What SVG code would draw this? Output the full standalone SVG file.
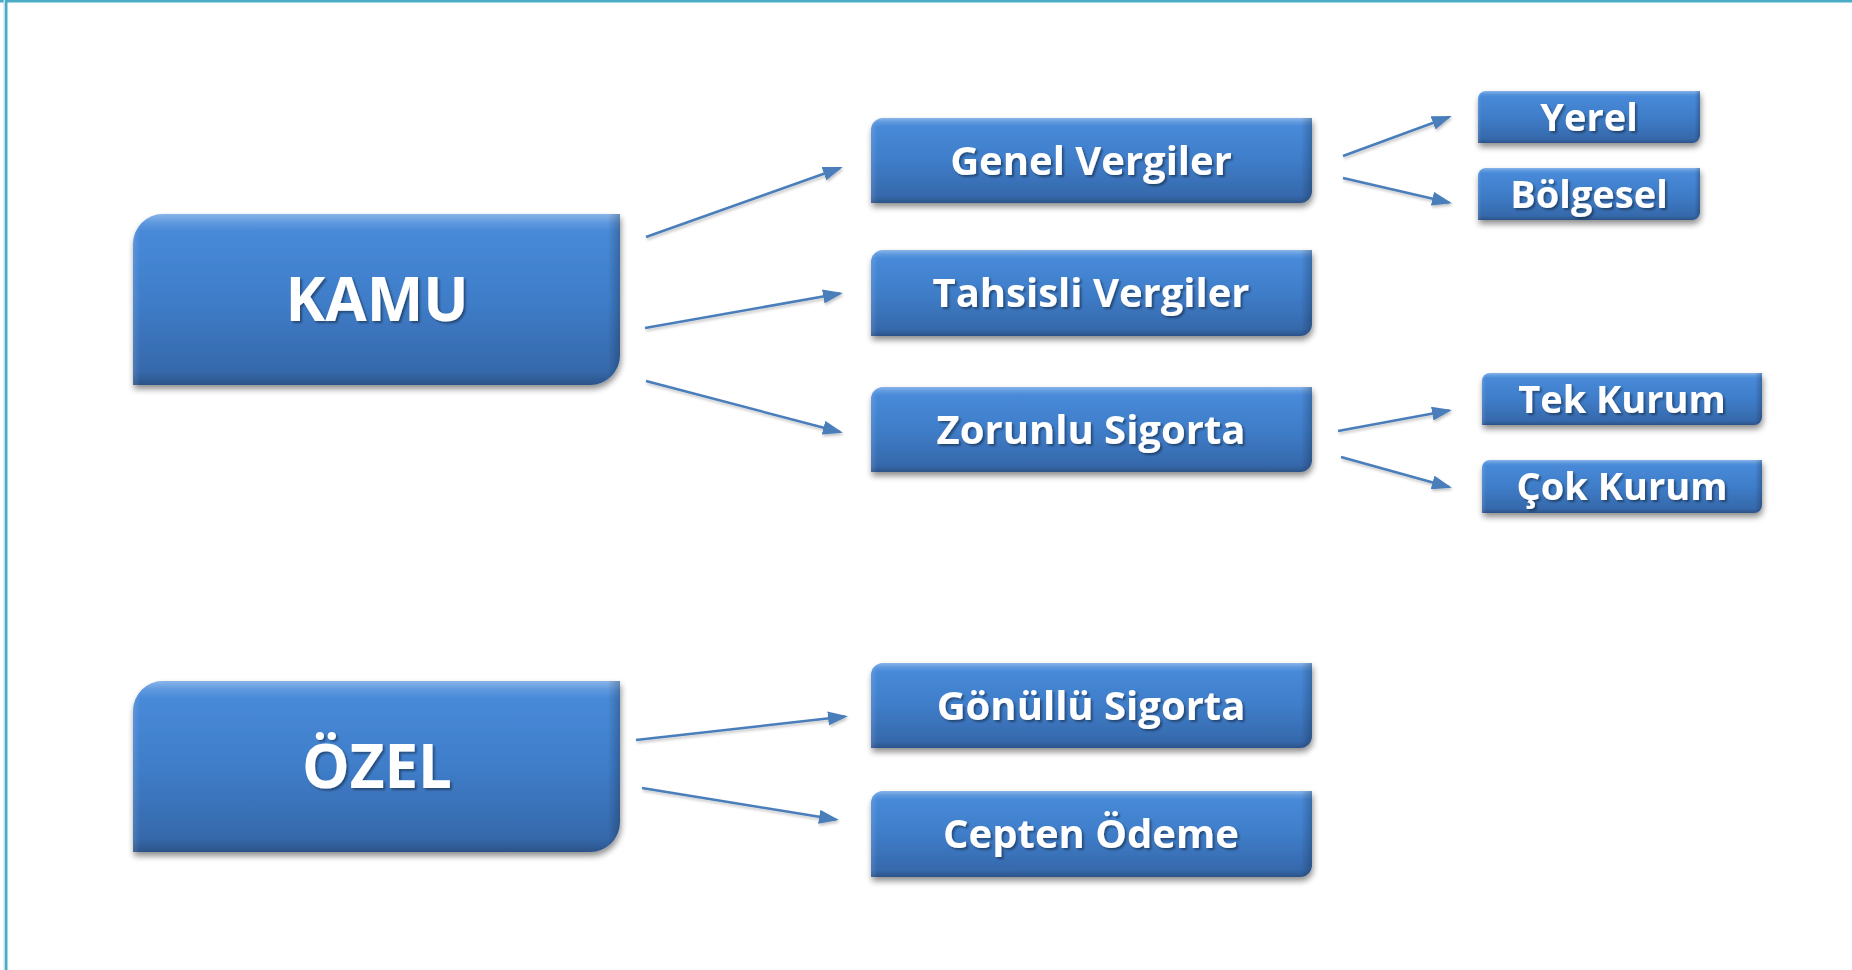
<svg xmlns="http://www.w3.org/2000/svg" xmlns:xlink="http://www.w3.org/1999/xlink" width="1852" height="970" viewBox="0 0 1852 970">
<defs>
<linearGradient id="gBody" x1="0" y1="0" x2="0" y2="1">
<stop offset="0" stop-color="#4A8DDC"/>
<stop offset="0.5" stop-color="#3F7DC9"/>
<stop offset="1" stop-color="#3465A6"/>
</linearGradient>
<linearGradient id="gTop" x1="0" y1="0" x2="0" y2="1">
<stop offset="0" stop-color="#FFFFFF" stop-opacity="0.35"/>
<stop offset="0.05" stop-color="#FFFFFF" stop-opacity="0.12"/>
<stop offset="0.1" stop-color="#FFFFFF" stop-opacity="0"/>
<stop offset="0.92" stop-color="#000000" stop-opacity="0"/>
<stop offset="1" stop-color="#000000" stop-opacity="0.18"/>
</linearGradient>
<linearGradient id="gSide" x1="0" y1="0" x2="1" y2="0">
<stop offset="0" stop-color="#FFFFFF" stop-opacity="0.12"/>
<stop offset="0.015" stop-color="#FFFFFF" stop-opacity="0"/>
<stop offset="0.975" stop-color="#000000" stop-opacity="0"/>
<stop offset="1" stop-color="#000000" stop-opacity="0.22"/>
</linearGradient>
<filter id="shadow" x="-10%" y="-20%" width="120%" height="150%">
<feGaussianBlur in="SourceAlpha" stdDeviation="3"/>
<feOffset dx="1" dy="4" result="b"/>
<feComponentTransfer><feFuncA type="linear" slope="0.45"/></feComponentTransfer>
<feMerge><feMergeNode/><feMergeNode in="SourceGraphic"/></feMerge>
</filter>
<filter id="tshadow" x="-10%" y="-20%" width="120%" height="150%">
<feGaussianBlur in="SourceAlpha" stdDeviation="1"/>
<feOffset dx="1.5" dy="1.5"/>
<feComponentTransfer><feFuncA type="linear" slope="0.4"/></feComponentTransfer>
<feMerge><feMergeNode/><feMergeNode in="SourceGraphic"/></feMerge>
</filter>
<filter id="lshadow" x="-10%" y="-50%" width="120%" height="200%">
<feGaussianBlur in="SourceAlpha" stdDeviation="1.5"/>
<feOffset dx="1" dy="2"/>
<feComponentTransfer><feFuncA type="linear" slope="0.25"/></feComponentTransfer>
<feMerge><feMergeNode/><feMergeNode in="SourceGraphic"/></feMerge>
</filter>
<marker id="arr" viewBox="0 0 20 14" refX="17" refY="7" markerWidth="20" markerHeight="14" markerUnits="userSpaceOnUse" orient="auto">
<path d="M0,0 L20,7 L0,14 Z" fill="#4A7EBB"/>
</marker>
<path id="p-kamu" d="M163,214 H620 V355 A30,30 0 0 1 590,385 H133 V244 A30,30 0 0 1 163,214 Z"/>
<path id="p-ozel" d="M163,681 H620 V822 A30,30 0 0 1 590,852 H133 V711 A30,30 0 0 1 163,681 Z"/>
<path id="p-genel" d="M883,118 H1312 V191 A12,12 0 0 1 1300,203 H871 V130 A12,12 0 0 1 883,118 Z"/>
<path id="p-tahsisli" d="M883,250 H1312 V324 A12,12 0 0 1 1300,336 H871 V262 A12,12 0 0 1 883,250 Z"/>
<path id="p-zorunlu" d="M883,387 H1312 V460 A12,12 0 0 1 1300,472 H871 V399 A12,12 0 0 1 883,387 Z"/>
<path id="p-gonullu" d="M883,663 H1312 V736 A12,12 0 0 1 1300,748 H871 V675 A12,12 0 0 1 883,663 Z"/>
<path id="p-cepten" d="M883,791 H1312 V865 A12,12 0 0 1 1300,877 H871 V803 A12,12 0 0 1 883,791 Z"/>
<path id="p-yerel" d="M1486,91 H1700 V135 A8,8 0 0 1 1692,143 H1478 V99 A8,8 0 0 1 1486,91 Z"/>
<path id="p-bolgesel" d="M1486,168 H1700 V212 A8,8 0 0 1 1692,220 H1478 V176 A8,8 0 0 1 1486,168 Z"/>
<path id="p-tek" d="M1490,373 H1762 V417 A8,8 0 0 1 1754,425 H1482 V381 A8,8 0 0 1 1490,373 Z"/>
<path id="p-cok" d="M1490,460 H1762 V505 A8,8 0 0 1 1754,513 H1482 V468 A8,8 0 0 1 1490,460 Z"/>
</defs>
<style>
.body { fill: url(#gBody); filter: url(#shadow); }
.top { fill: url(#gTop); }
.side { fill: url(#gSide); }
.lbl { fill: #FFFFFF; font-family: "Open Sans", "Liberation Sans", sans-serif; font-weight: bold; text-anchor: middle; filter: url(#tshadow); }
.big { font-size: 60px; }
.mid { font-size: 40px; }
.sml { font-size: 38px; }
.conn { stroke: #4A7EBB; stroke-width: 2.5; fill: none; marker-end: url(#arr); }
</style>
<rect x="0" y="0" width="1852" height="970" fill="#FFFFFF"/>
<g id="frame">
<rect x="0" y="0" width="1852" height="2.5" fill="#4BACC6"/>
<rect x="3.5" y="0" width="1.5" height="970" fill="#BFE0EA"/>
<rect x="5" y="0" width="2.5" height="970" fill="#4BACC6"/>
</g>
<g id="connectors" filter="url(#lshadow)">
<line class="conn" x1="646" y1="237" x2="840" y2="168"/>
<line class="conn" x1="645" y1="328" x2="840" y2="293.5"/>
<line class="conn" x1="646" y1="381" x2="840" y2="432"/>
<line class="conn" x1="1343" y1="156" x2="1449" y2="117"/>
<line class="conn" x1="1343" y1="178" x2="1449" y2="202.5"/>
<line class="conn" x1="1338" y1="431" x2="1449" y2="410.5"/>
<line class="conn" x1="1341" y1="457" x2="1449" y2="487"/>
<line class="conn" x1="636" y1="740" x2="845" y2="716.5"/>
<line class="conn" x1="642" y1="788" x2="836" y2="819.5"/>
</g>
<g id="n-kamu">
<use href="#p-kamu" class="body"/><use href="#p-kamu" class="top"/><use href="#p-kamu" class="side"/>
<text class="lbl big" x="377" y="321">KAMU</text>
</g>
<g id="n-ozel">
<use href="#p-ozel" class="body"/><use href="#p-ozel" class="top"/><use href="#p-ozel" class="side"/>
<text class="lbl big" x="377" y="788">ÖZEL</text>
</g>
<g id="n-genel">
<use href="#p-genel" class="body"/><use href="#p-genel" class="top"/><use href="#p-genel" class="side"/>
<text class="lbl mid" x="1091" y="175">Genel Vergiler</text>
</g>
<g id="n-tahsisli">
<use href="#p-tahsisli" class="body"/><use href="#p-tahsisli" class="top"/><use href="#p-tahsisli" class="side"/>
<text class="lbl mid" x="1091" y="307">Tahsisli Vergiler</text>
</g>
<g id="n-zorunlu">
<use href="#p-zorunlu" class="body"/><use href="#p-zorunlu" class="top"/><use href="#p-zorunlu" class="side"/>
<text class="lbl mid" x="1091" y="444">Zorunlu Sigorta</text>
</g>
<g id="n-gonullu">
<use href="#p-gonullu" class="body"/><use href="#p-gonullu" class="top"/><use href="#p-gonullu" class="side"/>
<text class="lbl mid" x="1091" y="720">Gönüllü Sigorta</text>
</g>
<g id="n-cepten">
<use href="#p-cepten" class="body"/><use href="#p-cepten" class="top"/><use href="#p-cepten" class="side"/>
<text class="lbl mid" x="1091" y="848">Cepten Ödeme</text>
</g>
<g id="n-yerel">
<use href="#p-yerel" class="body"/><use href="#p-yerel" class="top"/><use href="#p-yerel" class="side"/>
<text class="lbl sml" x="1589" y="131">Yerel</text>
</g>
<g id="n-bolgesel">
<use href="#p-bolgesel" class="body"/><use href="#p-bolgesel" class="top"/><use href="#p-bolgesel" class="side"/>
<text class="lbl sml" x="1589" y="208">Bölgesel</text>
</g>
<g id="n-tek">
<use href="#p-tek" class="body"/><use href="#p-tek" class="top"/><use href="#p-tek" class="side"/>
<text class="lbl sml" x="1622" y="413">Tek Kurum</text>
</g>
<g id="n-cok">
<use href="#p-cok" class="body"/><use href="#p-cok" class="top"/><use href="#p-cok" class="side"/>
<text class="lbl sml" x="1622" y="500">Çok Kurum</text>
</g>
</svg>
